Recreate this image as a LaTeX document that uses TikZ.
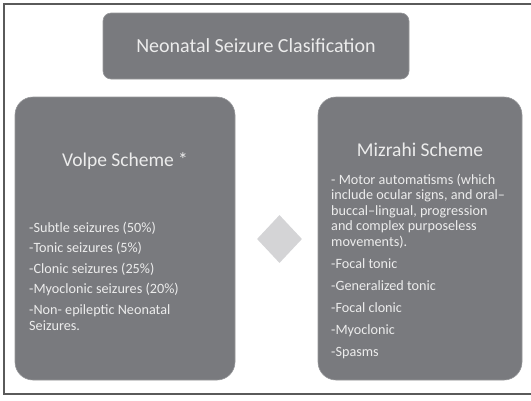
\documentclass[tikz,border=0pt]{standalone}
\usepackage{fontspec}
\setmainfont{Carlito}
\usetikzlibrary{shapes.geometric}
\definecolor{boxgray}{RGB}{121,122,126}
\definecolor{boxedge}{RGB}{150,151,154}
\definecolor{boxtext}{RGB}{236,236,236}
\definecolor{diamondgray}{RGB}{212,212,214}
\definecolor{framegray}{RGB}{90,90,90}
\tikzset{
  grayblock/.style={fill=boxgray, draw=boxedge, line width=0.6pt, inner sep=0pt},
  titlebox/.style={grayblock, rounded corners=8pt, minimum width=306pt, minimum height=66pt,
    text=boxtext, font=\fontsize{20}{24}\selectfont},
  schemebox/.style={grayblock, rounded corners=18pt, minimum height=283pt},
  headtext/.style={text=boxtext, inner sep=0pt, font=\fontsize{19.5}{23}\selectfont},
  listtext/.style={text=boxtext, inner sep=0pt, align=left, anchor=base west,
    font=\fontsize{14.2}{15.6}\selectfont}
}
\begin{document}
\begin{tikzpicture}[x=1pt,y=-1pt]
\useasboundingbox (0,0) rectangle (531,400);
% outer frame, open on the right
\draw[framegray, line width=1.2pt] (531,4) -- (4,4) -- (4,394) -- (531,394);
% boxes
\node[titlebox] (title) at (256,46) {Neonatal Seizure Clasification};
\node[schemebox, minimum width=220pt] (volpe) at (125,238.5) {};
\node[schemebox, minimum width=204pt] (mizrahi) at (420,238.5) {};
\node[diamond, fill=diamondgray, minimum width=45pt, minimum height=48pt, inner sep=0pt] (link) at (279.5,239) {};
% left box text (base = last line)
\node[headtext] (volpehead) at (125,161) {Volpe Scheme *};
\node[listtext] (volpelist) at (29,330) {-Subtle seizures (50\%)\\[5pt]
  -Tonic seizures (5\%)\\[5pt]
  -Clonic seizures (25\%)\\[5pt]
  -Myoclonic seizures (20\%)\\[5pt]
  -Non- epileptic Neonatal\\
  Seizures.};
% right box text
\node[headtext] (mizrahihead) at (420,150) {Mizrahi Scheme};
\node[listtext] (mizrahilist) at (331,356) {- Motor automatisms (which\\
  include ocular signs, and oral–\\
  buccal–lingual, progression\\
  and complex purposeless\\
  movements).\\[6.3pt]
  -Focal tonic\\[6.3pt]
  -Generalized tonic\\[6.3pt]
  -Focal clonic\\[6.3pt]
  -Myoclonic\\[6.3pt]
  -Spasms};
\end{tikzpicture}
\end{document}
